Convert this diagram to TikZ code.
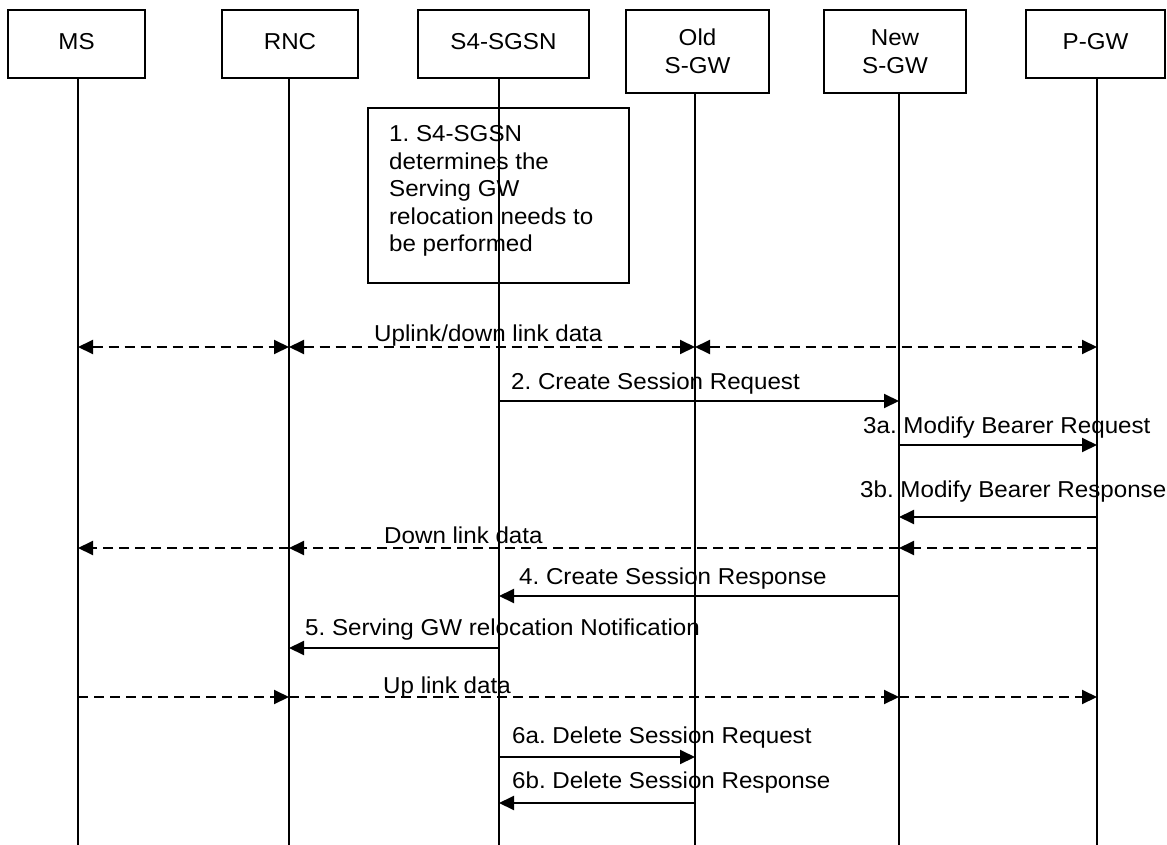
\documentclass[tikz,border=0pt]{standalone}
\usepackage{fontspec}
\setmainfont{Liberation Sans}[FakeStretch=1.05]
\usetikzlibrary{arrows.meta}
\frenchspacing
\begin{document}
\begin{tikzpicture}[x=1pt,y=-1pt,
  every node/.style={inner sep=0pt, font=\fontsize{23}{27.5}\selectfont\frenchspacing},
  >={Triangle[length=15pt,width=14pt]},
  entity/.style={draw, line width=1.5pt},
  onebox/.style={entity, minimum height=68pt, text depth=6pt},
  twobox/.style={entity, minimum height=83pt, align=center},
  life/.style={line width=1.5pt},
  msg/.style={line width=2pt, ->},
  dmsg/.style={line width=2pt, dash pattern=on 10pt off 6pt, ->},
  ddmsg/.style={line width=2pt, dash pattern=on 10pt off 6pt, <->},
  lbl/.style={anchor=base west},
  notebox/.style={draw, line width=1.5pt}
]
\useasboundingbox (0,0) rectangle (1167,845);
\coordinate (bot) at (0,845);
% lifeline x positions
\coordinate (xMS) at (78,0);
\coordinate (xRNC) at (289,0);
\coordinate (xSG) at (499,0);
\coordinate (xOLD) at (695,0);
\coordinate (xNEW) at (899,0);
\coordinate (xPGW) at (1097,0);

% headers
\node[onebox, minimum width=137pt] (ms) at (76.5,44) {MS};
\node[onebox, minimum width=136pt] (rnc) at (290,44) {RNC};
\node[onebox, minimum width=171pt] (sgsn) at (503.5,44) {S4-SGSN};
\node[twobox, minimum width=143pt] (old) at (697.5,51.5) {Old\\S-GW};
\node[twobox, minimum width=142pt] (new) at (895,51.5) {New\\S-GW};
\node[onebox, minimum width=139pt] (pgw) at (1095.5,44) {P-GW};

% lifelines
\draw[life] (xMS |- ms.south) -- (xMS |- bot);
\draw[life] (xRNC |- rnc.south) -- (xRNC |- bot);
\draw[life] (xSG |- sgsn.south) -- (xSG |- bot);
\draw[life] (xOLD |- old.south) -- (xOLD |- bot);
\draw[life] (xNEW |- new.south) -- (xNEW |- bot);
\draw[life] (xPGW |- pgw.south) -- (xPGW |- bot);

% note 1
\node[notebox, minimum width=261pt, minimum height=175pt] (note) at (498.5,195.5) {};
\node[anchor=north west, align=left] (notetxt) at (389,125.5)
  {1. S4-SGSN\\determines the\\Serving GW\\relocation needs to\\be performed};

% message rows
\coordinate (yUD) at (0,347);
\coordinate (y2) at (0,401);
\coordinate (y3a) at (0,445);
\coordinate (y3b) at (0,517);
\coordinate (yDL) at (0,548);
\coordinate (y4) at (0,596);
\coordinate (y5) at (0,648);
\coordinate (yUL) at (0,697);
\coordinate (y6a) at (0,757);
\coordinate (y6b) at (0,803);

% Uplink/down link data
\draw[ddmsg] (xMS |- yUD) -- (xRNC |- yUD);
\draw[ddmsg] (xRNC |- yUD) -- (xOLD |- yUD);
\draw[ddmsg] (xOLD |- yUD) -- (xPGW |- yUD);
\node[lbl] (lUD) at (374,341) {Uplink/down link data};

% 2
\draw[msg] (xSG |- y2) -- (xNEW |- y2);
\node[lbl] (l2) at (511,389) {2. Create Session Request};

% 3a
\draw[msg] (xNEW |- y3a) -- (xPGW |- y3a);
\node[lbl] (l3a) at (863,433) {3a. Modify Bearer Request};

% 3b
\draw[msg] (xPGW |- y3b) -- (xNEW |- y3b);
\node[lbl] (l3b) at (860,497) {3b. Modify Bearer Response};

% Down link data
\draw[dmsg] (xPGW |- yDL) -- (xNEW |- yDL);
\draw[dmsg] (xNEW |- yDL) -- (xRNC |- yDL);
\draw[dmsg] (xRNC |- yDL) -- (xMS |- yDL);
\node[lbl] (lDL) at (384,543) {Down link data};

% 4
\draw[msg] (xNEW |- y4) -- (xSG |- y4);
\node[lbl] (l4) at (519,584) {4. Create Session Response};

% 5
\draw[msg] (xSG |- y5) -- (xRNC |- y5);
\node[lbl] (l5) at (305,635) {5. Serving GW relocation Notification};

% Up link data
\draw[dmsg] (xMS |- yUL) -- (xRNC |- yUL);
\draw[dmsg] (xRNC |- yUL) -- (xNEW |- yUL);
\draw[dmsg] (xNEW |- yUL) -- (xPGW |- yUL);
\node[lbl] (lUL) at (383,693) {Up link data};

% 6a / 6b
\draw[msg] (xSG |- y6a) -- (xOLD |- y6a);
\node[lbl] (l6a) at (512,743) {6a. Delete Session Request};
\draw[msg] (xOLD |- y6b) -- (xSG |- y6b);
\node[lbl] (l6b) at (512,788) {6b. Delete Session Response};
\end{tikzpicture}
\end{document}
